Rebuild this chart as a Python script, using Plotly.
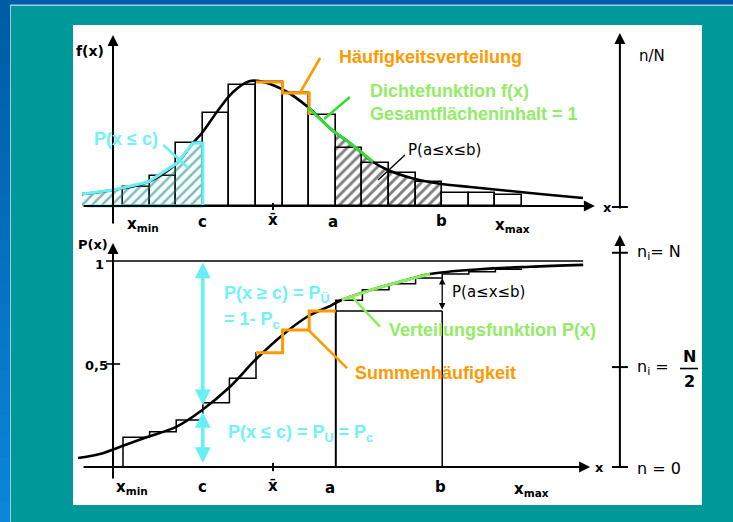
import numpy as np
import plotly.graph_objects as go

# ------------------------------------------------------------------ data
# x is measured in class widths: class limits 0 (= x_min) ... 15 (= x_max)
class_edges = list(range(16))
freq = [19, 30, 63, 93, 121, 124, 113, 91, 58, 43, 33, 24, 13, 13, 11]          # Häufigkeitsverteilung
dens_x = [-1.54, -0.38, 0.94, 2.03, 2.63, 2.97, 3.53, 4.14, 4.77, 5.41, 6.17, 6.95,
          7.86, 8.53, 9.40, 9.96, 10.98, 11.99, 13.05, 14.17, 15.68, 17.29]
dens_y = [12, 16, 24, 43, 63, 73, 94, 114, 125, 123, 114, 99,
          76, 63, 44, 36, 27, 22, 19, 16, 12, 8]                                   # Dichtefunktion f(x)
cum_freq = [0.144, 0.171, 0.228, 0.312, 0.431, 0.555, 0.665, 0.757,
            0.810, 0.860, 0.890, 0.917, 0.937, 0.948, 0.960]                      # Summenhäufigkeit
cdf_x = [-1.69, -0.87, 0.08, 1.02, 2.02, 2.89, 3.96, 5.00, 6.00, 6.97, 7.71, 8.22,
         9.41, 10.54, 11.54, 13.42, 15.30, 17.30]
cdf_p = [0.044, 0.063, 0.107, 0.150, 0.196, 0.268, 0.382, 0.523, 0.641, 0.733, 0.777, 0.811,
         0.863, 0.904, 0.937, 0.960, 0.972, 0.981]                                # Verteilungsfunktion P(x)
c_val, a_val, b_val, xbar_val = 3, 8, 12, 5.64

# ------------------------------------------------------------------ layout constants
W, H = 733, 522
X_RANGE = [-4.624, 22.932]
Y_TOP = [-316, 206]
Y_BOT = [-0.267, 2.267]
AX_LEFT_X = -0.376
AX_RIGHT_X = 18.68

CYAN = "#66f0f6"
CYAN_TXT = "#6ff2f8"
ORANGE = "#ff9900"
GREEN_L = "#33dd33"
GREEN_TXT = "#92ec66"
GREEN_B = "#8aee58"
SCAN_FONT = "DejaVu Sans"
BOLD_FONT = "Liberation Sans"

fig = go.Figure()


def line(xs, ys, axis="y", color="black", width=2, shape="linear", dash=None):
    fig.add_trace(go.Scatter(x=xs, y=ys, yaxis=axis, mode="lines", hoverinfo="skip",
                             line=dict(color=color, width=width, shape=shape, dash=dash)))


# ---------------- top panel: hatched areas ----------------
f_c = freq[c_val - 1]
left_pts = [(x, y) for x, y in zip(dens_x, dens_y) if x < c_val and y <= f_c]
lx = [p[0] for p in left_pts]
ly = [p[1] for p in left_pts]
left_x = lx + [c_val, c_val, lx[0]]
left_y = ly + [f_c, 0, 0]
fig.add_trace(go.Scatter(x=left_x, y=left_y, yaxis="y", mode="lines", fill="toself",
                         line=dict(width=0), fillcolor="rgba(120,255,255,0.10)", hoverinfo="skip",
                         fillpattern=dict(shape="/", fgcolor="#1a7373", bgcolor="rgba(150,255,255,0.10)",
                                          size=7, solidity=0.35)))

mid = [(x, y) for x, y in zip(dens_x, dens_y) if a_val < x < b_val]
ab_x = [a_val] + [m[0] for m in mid] + [b_val, b_val, a_val]
ab_y = ([float(np.interp(a_val, dens_x, dens_y))] + [m[1] for m in mid]
        + [float(np.interp(b_val, dens_x, dens_y)), 0, 0])
fig.add_trace(go.Scatter(x=ab_x, y=ab_y, yaxis="y", mode="lines", fill="toself",
                         line=dict(width=0), fillcolor="rgba(0,0,0,0)", hoverinfo="skip",
                         fillpattern=dict(shape="/", fgcolor="black", bgcolor="rgba(0,0,0,0)",
                                          size=7, solidity=0.42)))

# histogram bars
fig.add_trace(go.Bar(x=[e + 0.5 for e in class_edges[:-1]], y=freq, width=1, yaxis="y",
                     marker=dict(color="rgba(0,0,0,0)", line=dict(color="black", width=1.6)),
                     hoverinfo="skip"))

# density curve
line(dens_x, dens_y, "y", "black", 2.6, "spline")

# cyan outline of P(x <= c)
line(lx + [c_val, c_val, lx[0] + 0.2], ly + [f_c, 0, 0], "y", CYAN, 3.2)

# orange highlight of frequency steps
k = 5
line([k, k + 1, k + 1, k + 2, k + 2], [freq[k], freq[k], freq[k + 1], freq[k + 1], freq[k + 2]],
     "y", ORANGE, 3)
# green highlight of density
gseg = [(x, y) for x, y in zip(dens_x, dens_y) if 6.9 <= x <= 9.5]
line([p[0] for p in gseg], [p[1] for p in gseg], "y", GREEN_L, 3, "spline")

# leader lines (top)
line([7.41, 6.65], [148, 113], "y", ORANGE, 2.5)
line([8.53, 7.56], [109, 87], "y", GREEN_L, 2.5)
line([1.52, 2.45], [61, 38], "y", CYAN, 2.5)
line([10.6, 9.59], [51, 26], "y", "black", 1.4)

# top axes / ticks
line([xbar_val, xbar_val], [-4, 3], "y", "black", 2)
line([18.38, 18.98], [-1, -1], "y", "black", 2)

# ---------------- bottom panel ----------------
line([-0.64, 17.3], [1, 1], "y2", "black", 1.6)
line([-0.64, -0.11], [0.5, 0.5], "y2", "black", 1.6)

step_x = [class_edges[0]] + class_edges
step_y = [0] + cum_freq + [cum_freq[-1]]
line(step_x, step_y, "y2", "black", 1.5, "hv")

line(cdf_x, cdf_p, "y2", "black", 2.6, "spline")

P_a = cum_freq[a_val - 1]
P_b = cum_freq[b_val - 1]
line([a_val, a_val], [0, P_a], "y2", "black", 2)
line([a_val, b_val], [P_a, P_a], "y2", "black", 1.5)
line([b_val, b_val], [0, P_a], "y2", "black", 1.5)
line([xbar_val, xbar_val], [-0.02, 0.02], "y2", "black", 2)

# orange highlight steps
line([5, 6, 6, 7, 7, 8], [cum_freq[5], cum_freq[5], cum_freq[6], cum_freq[6], cum_freq[7], cum_freq[7]],
     "y2", ORANGE, 3)
# green highlight cdf
gb = [(x, p) for x, p in zip(cdf_x, cdf_p) if 8.0 <= x <= 11.6]
line([p[0] for p in gb], [p[1] for p in gb], "y2", GREEN_B, 3, "spline")

# leaders (bottom)
line([6.97, 8.42], [0.665, 0.48], "y2", ORANGE, 2.5)
line([8.6, 9.66], [0.827, 0.681], "y2", GREEN_B, 2.5)

# right axis ticks
right_ticks = [1.04, 0.485, 0.0]
for t in right_ticks:
    line([18.38, 18.98], [t, t], "y2", "black", 2)
line([20.94, 21.62], [0.478, 0.478], "y2", "black", 1.6)

# ---------------- arrows (axes & dimension arrows) ----------------
ann = []


def arrow(x0, y0, x1, y1, yref, color="black", width=2, head=2, size=1.0, both=False):
    ann.append(dict(x=x1, y=y1, ax=x0, ay=y0, xref="x", yref=yref, axref="x", ayref=yref,
                    text="", showarrow=True, arrowhead=head, arrowsize=size, arrowwidth=width,
                    arrowcolor=color, standoff=0, startstandoff=0,
                    arrowside="end+start" if both else "end", startarrowhead=head, startarrowsize=size))


arrow(-1.54, 0, 17.74, 0, "y", width=2, size=1.1)
arrow(AX_LEFT_X, -19, AX_LEFT_X, 171, "y", width=2, size=1.1)
arrow(AX_RIGHT_X, -4, AX_RIGHT_X, 173, "y", width=2, size=1.1)
arrow(-1.54, 0, 17.56, 0, "y2", width=2, size=1.1)
arrow(AX_LEFT_X, -0.063, AX_LEFT_X, 1.087, "y2", width=2, size=1.1)
arrow(AX_RIGHT_X, -0.005, AX_RIGHT_X, 1.126, "y2", width=2, size=1.1)

P_c = float(np.interp(c_val, cdf_x, cdf_p))
arrow(c_val, 1.0, c_val, P_c + 0.02, "y2", color=CYAN, width=3.5, size=0.9, both=True)
arrow(c_val, P_c - 0.005, c_val, 0.02, "y2", color=CYAN, width=3.5, size=0.9, both=True)
arrow(b_val, P_a, b_val, P_b, "y2", width=1.3, size=1.0, both=True)


def txt(x, y, s, yref, color="black", size=14, font=SCAN_FONT, anchor="center", bold=False):
    if bold:
        s = "<b>" + s + "</b>"
    ann.append(dict(x=x, y=y, xref="x", yref=yref, text=s, showarrow=False,
                    xanchor=anchor, yanchor="middle",
                    font=dict(family=font, size=size, color=color)))


# scanned labels (top)
txt(-1.24, 155, "f(x)", "y", size=14, bold=True)
txt(19.89, 150, "n/N", "y", size=15)
txt(18.2, -1, "x", "y", size=13, bold=True)
txt(0.75, -18, "x<sub>min</sub>", "y", size=15, bold=True)
txt(2.97, -16, "c", "y", size=15, bold=True)
txt(xbar_val, -14, "x̄", "y", size=15, bold=True)
txt(7.89, -16, "a", "y", size=15, bold=True)
txt(11.99, -15, "b", "y", size=15, bold=True)
txt(14.66, -19, "x<sub>max</sub>", "y", size=15, bold=True)
txt(10.62, 56, "P(a≤x≤b)", "y", size=15, anchor="left")

# coloured labels (top)
txt(8.05, 149, "Häufigkeitsverteilung", "y", ORANGE, 18, BOLD_FONT, "left", True)
txt(9.21, 115, "Dichtefunktion f(x)", "y", GREEN_TXT, 18, BOLD_FONT, "left", True)
txt(9.21, 92, "Gesamtflächeninhalt = 1", "y", GREEN_TXT, 18, BOLD_FONT, "left", True)
txt(-1.17, 67, "P(x ≤ c)", "y", CYAN_TXT, 18, BOLD_FONT, "left", True)

# scanned labels (bottom)
txt(-1.13, 1.08, "P(x)", "y2", size=13, bold=True)
txt(-0.87, 0.985, "1", "y2", size=13, bold=True)
txt(-0.98, 0.495, "0,5", "y2", size=13, bold=True)
txt(17.93, 0.0, "x", "y2", size=13, bold=True)
txt(0.34, -0.10, "x<sub>min</sub>", "y2", size=15, bold=True)
txt(3.0, -0.097, "c", "y2", size=15, bold=True)
txt(xbar_val, -0.092, "x̄", "y2", size=15, bold=True)
txt(7.78, -0.10, "a", "y2", size=15, bold=True)
txt(11.92, -0.097, "b", "y2", size=15, bold=True)
txt(15.34, -0.11, "x<sub>max</sub>", "y2", size=15, bold=True)
txt(12.29, 0.85, "P(a≤x≤b)", "y2", size=15, anchor="left")
txt(19.25, 1.039, "n<sub>i</sub>= N", "y2", size=16, anchor="left")
txt(19.25, 0.485, "n<sub>i</sub> =", "y2", size=16, anchor="left")
txt(21.28, 0.535, "N", "y2", size=16, bold=True)
txt(21.28, 0.415, "2", "y2", size=16, bold=True)
txt(19.25, -0.005, "n = 0", "y2", size=16, anchor="left")

# coloured labels (bottom)
txt(3.72, 0.835, "P(x ≥ c) = P<sub>Ü</sub>", "y2", CYAN_TXT, 18, BOLD_FONT, "left", True)
txt(3.72, 0.709, "= 1- P<sub>c</sub>", "y2", CYAN_TXT, 18, BOLD_FONT, "left", True)
txt(3.87, 0.165, "P(x ≤ c) = P<sub>U</sub> = P<sub>c</sub>", "y2", CYAN_TXT, 18, BOLD_FONT, "left", True)
txt(8.65, 0.456, "Summenhäufigkeit", "y2", ORANGE, 18, BOLD_FONT, "left", True)
txt(9.92, 0.665, "Verteilungsfunktion P(x)", "y2", GREEN_TXT, 18, BOLD_FONT, "left", True)

# ---------------- background frames ----------------
shapes = []
nb = 24
for i in range(nb):
    t = i / (nb - 1)
    r = int(0 + 12 * t)
    g = int(92 + 42 * t)
    b = int(166 + 50 * t)
    shapes.append(dict(type="rect", xref="paper", yref="paper", x0=0, x1=1,
                       y0=1 - (i + 1) / nb, y1=1 - i / nb, line=dict(width=0),
                       fillcolor=f"rgb({r},{g},{b})", layer="below"))


def prect(px0, py0, px1, py1, color):
    shapes.append(dict(type="rect", xref="paper", yref="paper", x0=px0 / W, x1=px1 / W,
                       y0=1 - py1 / H, y1=1 - py0 / H, line=dict(width=0),
                       fillcolor=color, layer="below"))


prect(10, 4.5, W, H, "#9ccbea")
prect(11, 6, W, H, "#009999")
prect(73, 25, 702, 505, "#ffffff")

fig.update_layout(
    width=W, height=H, margin=dict(l=0, r=0, t=0, b=0),
    paper_bgcolor="#0a6fbf", plot_bgcolor="rgba(0,0,0,0)",
    xaxis=dict(range=X_RANGE, visible=False, fixedrange=True),
    yaxis=dict(range=Y_TOP, visible=False, fixedrange=True),
    yaxis2=dict(range=Y_BOT, visible=False, overlaying="y", fixedrange=True),
    showlegend=False, bargap=0, shapes=shapes, annotations=ann,
)

fig.write_html("out.html", config={"displayModeBar": False})
